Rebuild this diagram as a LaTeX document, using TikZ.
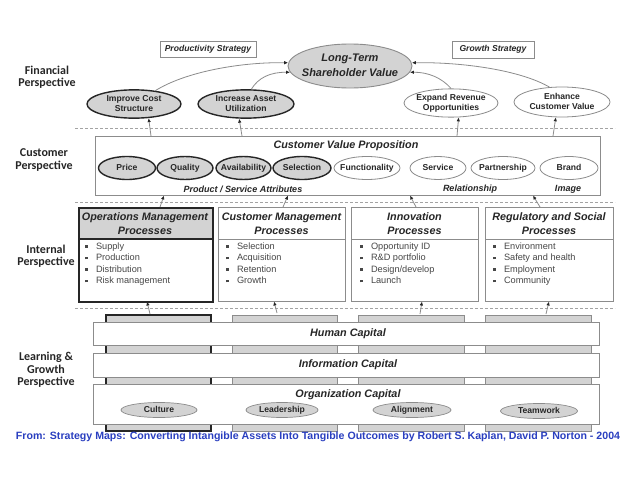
\documentclass[tikz,border=0pt]{standalone}
\usepackage{fontspec}
\setmainfont{Liberation Sans}
\newfontfamily\labfont{Carlito}
\usetikzlibrary{shapes.geometric,arrows.meta}
\definecolor{gfill}{HTML}{D3D3D3}
\definecolor{gline}{HTML}{8C8C8C}
\definecolor{dark}{HTML}{262626}
\definecolor{footblue}{HTML}{2A3FC0}
\newcommand\ovtxt[1]{\makebox[0pt]{\begin{tabular}{@{}c@{}}#1\end{tabular}}}
\newcommand\bul{\raisebox{1.4pt}{\rule{2.8pt}{2.8pt}}\hspace{8pt}}
\begin{document}
\begin{tikzpicture}[x=1pt,y=-1pt,
  persp/.style={font=\labfont\bfseries\fontsize{12}{12.5}\selectfont, align=center, text=dark, inner sep=0},
  oval/.style={ellipse, draw=gline, line width=0.8pt, fill=white, inner sep=0, font=\bfseries\fontsize{8.6}{10}\selectfont, text=dark},
  ovalhi/.style={oval, draw=dark, line width=1.4pt, fill=gfill},
  ovalgr/.style={oval, fill=gfill, line width=0.7pt},
  stratbox/.style={draw=gline, line width=0.8pt, fill=white, inner sep=0, font=\bfseries\itshape\fontsize{8.6}{10}\selectfont, text=dark},
  bigbox/.style={draw=gline, line width=0.9pt, inner sep=0, anchor=north west},
  ttl/.style={font=\bfseries\itshape\fontsize{10.8}{14}\selectfont, align=center, text=dark, inner sep=0},
  sub/.style={font=\bfseries\itshape\fontsize{9}{10}\selectfont, text=dark, inner sep=0},
  blist/.style={font=\fontsize{9.2}{11.5}\selectfont, align=left, inner sep=0, text=dark!85, anchor=north west},
  dline/.style={draw=gline!80, line width=0.6pt, dash pattern=on 3pt off 2pt},
  arr/.style={draw=gline, line width=0.8pt, -{Latex[length=4pt,width=3.5pt,color=dark]}},
  colbar/.style={fill=gfill, draw=gline, line width=0.8pt},
  colbardark/.style={fill=gfill, draw=dark, line width=1.6pt},
  capbox/.style={draw=gline, line width=0.9pt, fill=white, inner sep=0, anchor=north west}
]
\path[use as bounding box, fill=white] (0,0) rectangle (638,479);

% perspective labels
\node[persp] (lfin) at (47,77) {Financial\\Perspective};
\node[persp] (lcus) at (44,160) {Customer\\Perspective};
\node[persp] (lint) at (46,256) {Internal\\Perspective};
\node[persp] (llg) at (46,370) {Learning \&\\Growth\\Perspective};

% dashed separators
\draw[dline] (75,128) -- (615,128);
\draw[dline] (75,202) -- (615,202);
\draw[dline] (75,308) -- (615,308);

% financial
\node[stratbox, minimum width=96pt, minimum height=16pt] (prod) at (208,49) {Productivity Strategy};
\node[stratbox, minimum width=82pt, minimum height=17pt] (grow) at (493,49.5) {Growth Strategy};
\node[ovalgr, line width=0.9pt, minimum width=124pt, minimum height=44pt, font=\bfseries\itshape\fontsize{11}{15}\selectfont] (lt) at (350,66) {\ovtxt{Long-Term\\Shareholder Value}};
\node[ovalhi, minimum width=94pt, minimum height=26pt] (ics) at (134,104) {\ovtxt{Improve Cost\\Structure}};
\node[ovalhi, minimum width=96pt, minimum height=26pt] (ias) at (246,104) {\ovtxt{Increase Asset\\Utilization}};
\node[oval, minimum width=94pt, minimum height=26pt] (erv) at (451,103) {\ovtxt{Expand Revenue\\Opportunities}};
\node[oval, minimum width=96pt, minimum height=30pt] (ecv) at (562,102) {\ovtxt{Enhance\\Customer Value}};

\draw[arr] (ics.32) .. controls (185,72) and (240,62) .. (lt.177);
\draw[arr] (ias.70) .. controls (258,78) and (270,72) .. (lt.186);
\draw[arr] (erv.90) .. controls (442,78) and (428,72) .. (lt.-6);
\draw[arr] (ecv.130) .. controls (520,70) and (462,62) .. (lt.3);

% customer
\node[bigbox, minimum width=505pt, minimum height=59pt] (cvp) at (95,136) {};
\node[ttl] (cvpt) at (346,146) {Customer Value Proposition};
\node[ovalhi, minimum width=57pt, minimum height=23pt] (price) at (127,168) {\ovtxt{Price}};
\node[ovalhi, minimum width=56pt, minimum height=23pt] (qual) at (185,168) {\ovtxt{Quality}};
\node[ovalhi, minimum width=55pt, minimum height=23pt] (avail) at (243.5,168) {\ovtxt{Availability}};
\node[ovalhi, minimum width=58pt, minimum height=23pt] (sel) at (302,168) {\ovtxt{Selection}};
\node[oval, minimum width=66pt, minimum height=23pt] (func) at (367,168) {\ovtxt{Functionality}};
\node[oval, minimum width=56pt, minimum height=23pt] (serv) at (438,168) {\ovtxt{Service}};
\node[oval, minimum width=64pt, minimum height=23pt] (part) at (503,168) {\ovtxt{Partnership}};
\node[oval, minimum width=58pt, minimum height=23pt] (brand) at (569,168) {\ovtxt{Brand}};
\node[sub] (psa) at (243,189) {Product / Service Attributes};
\node[sub] (rel) at (470,189) {Relationship};
\node[sub] (img) at (568,189) {Image};

\coordinate (c1) at (151,136);
\coordinate (c2) at (242,136);
\coordinate (c3) at (457,136);
\coordinate (c4) at (553,136);
\draw[arr] (c1) -- (ics.-44);
\draw[arr] (c2) -- (ias.-115);
\draw[arr] (c3) -- (erv.-62);
\draw[arr] (c4) -- (ecv.-112);

% internal
\fill[gfill] (78,207) rectangle (212,239);
\draw[dark, line width=1.2pt] (78,239) -- (212,239);
\node[bigbox, draw=dark, line width=1.8pt, minimum width=134pt, minimum height=94pt] (ops) at (78,207) {};
\node[bigbox, minimum width=127pt, minimum height=94pt] (cmp) at (218,207) {};
\node[bigbox, minimum width=127pt, minimum height=94pt] (inn) at (351,207) {};
\node[bigbox, minimum width=128pt, minimum height=94pt] (reg) at (485,207) {};
\draw[gline, line width=0.9pt] (218,239) -- (345,239);
\draw[gline, line width=0.9pt] (351,239) -- (478,239);
\draw[gline, line width=0.9pt] (485,239) -- (613,239);

\node[ttl] (opst) at (145,224) {Operations Management\\Processes};
\node[ttl] (cmpt) at (281.5,224) {Customer Management\\Processes};
\node[ttl] (innt) at (414.5,224) {Innovation\\Processes};
\node[ttl] (regt) at (549,224) {Regulatory and Social\\Processes};

\node[blist] (opsl) at (85,242.5) {\bul Supply\\\bul Production\\\bul Distribution\\\bul Risk management};
\node[blist] (cmpl) at (226,242.5) {\bul Selection\\\bul Acquisition\\\bul Retention\\\bul Growth};
\node[blist] (innl) at (360,242.5) {\bul Opportunity ID\\\bul R\&D portfolio\\\bul Design/develop\\\bul Launch};
\node[blist] (regl) at (493,242.5) {\bul Environment\\\bul Safety and health\\\bul Employment\\\bul Community};

\coordinate (p1) at (160,207);
\coordinate (p2) at (283,207);
\coordinate (p3) at (416,207);
\coordinate (p4) at (540,207);
\coordinate (q1) at (164,195.5);
\coordinate (q2) at (288,195.5);
\coordinate (q3) at (410,195.5);
\coordinate (q4) at (533,195.5);
\draw[arr] (p1) -- (q1);
\draw[arr] (p2) -- (q2);
\draw[arr] (p3) -- (q3);
\draw[arr] (p4) -- (q4);

% learning & growth
\path[colbardark] (106,315) rectangle (211,431);
\path[colbar] (232,315) rectangle (337,431);
\path[colbar] (358,315) rectangle (464,431);
\path[colbar] (485,315) rectangle (591,431);

\node[capbox, minimum width=506pt, minimum height=23pt] (hum) at (93,322) {};
\node[capbox, minimum width=506pt, minimum height=24pt] (inf) at (93,353) {};
\node[capbox, minimum width=506pt, minimum height=40pt] (org) at (93,384) {};
\node[ttl] (humt) at (348,333.5) {Human Capital};
\node[ttl] (inft) at (348,365) {Information Capital};
\node[ttl] (orgt) at (348,395) {Organization Capital};
\node[ovalgr, minimum width=76pt, minimum height=15pt] (cult) at (159,410) {\ovtxt{Culture}};
\node[ovalgr, minimum width=72pt, minimum height=15pt] (lead) at (282,410) {\ovtxt{Leadership}};
\node[ovalgr, minimum width=78pt, minimum height=15pt] (align) at (412,410) {\ovtxt{Alignment}};
\node[ovalgr, minimum width=77pt, minimum height=15pt] (team) at (539,411) {\ovtxt{Teamwork}};

\coordinate (h1) at (150,314);
\coordinate (h2) at (277,313);
\coordinate (h3) at (420,314);
\coordinate (h4) at (546,314);
\coordinate (k1) at (147,301.5);
\coordinate (k2) at (274,301.5);
\coordinate (k3) at (422,301.5);
\coordinate (k4) at (549,301.5);
\draw[arr] (h1) -- (k1);
\draw[arr] (h2) -- (k2);
\draw[arr] (h3) -- (k3);
\draw[arr] (h4) -- (k4);

% footer
\node[font=\bfseries\fontsize{10.6}{12}\selectfont, text=footblue, inner sep=0] (foot) at (318,437) {From: Strategy Maps: Converting Intangible Assets Into Tangible Outcomes by Robert S. Kaplan, David P. Norton - 2004};
\end{tikzpicture}
\end{document}
